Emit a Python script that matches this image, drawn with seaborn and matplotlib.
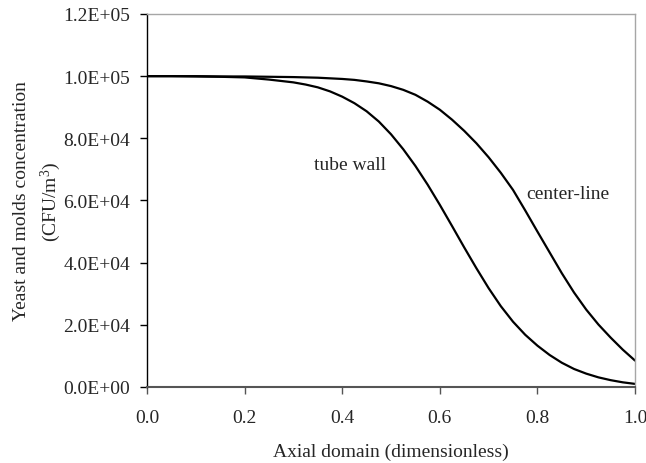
import matplotlib
matplotlib.use("Agg")
import matplotlib.pyplot as plt
import seaborn as sns
import pandas as pd
import numpy as np
from matplotlib.ticker import FuncFormatter, MultipleLocator

# axial position (dimensionless)
axial = [0.0, 0.05, 0.1, 0.15, 0.2, 0.25, 0.3, 0.325, 0.35, 0.375, 0.4, 0.425, 0.45, 0.475,
         0.5, 0.525, 0.55, 0.575, 0.6, 0.625, 0.65, 0.675, 0.7, 0.725, 0.75, 0.775,
         0.8, 0.825, 0.85, 0.875, 0.9, 0.925, 0.95, 0.975, 1.0]

# concentration (CFU/m3), in units of 1e3
tube_wall = [100.0, 100.0, 99.9, 99.8, 99.6, 98.9, 98.0, 97.3, 96.4, 95.1, 93.4, 91.3, 88.7, 85.4,
             81.3, 76.5, 71.1, 65.1, 58.6, 51.8, 44.9, 38.2, 31.8, 26.0, 21.0, 16.8,
             13.3, 10.3, 7.8, 5.8, 4.3, 3.1, 2.2, 1.5, 1.0]
center_line = [100.0, 100.0, 100.0, 99.9, 99.9, 99.8, 99.7, 99.6, 99.5, 99.3, 99.1, 98.8, 98.3, 97.7,
               96.8, 95.6, 94.0, 91.8, 89.2, 86.0, 82.4, 78.4, 73.9, 68.9, 63.4, 56.8,
               50.0, 43.3, 36.6, 30.4, 24.9, 20.1, 15.9, 12.0, 8.5]

series_names = ["tube wall", "center-line"]

df = pd.DataFrame({
    "x": axial * 2,
    "y": np.array(tube_wall + center_line) * 1e3,
    "series": [series_names[0]] * len(axial) + [series_names[1]] * len(axial),
})

sns.set_style("white")
plt.rcParams["font.family"] = ["Liberation Serif", "DejaVu Serif"]
plt.rcParams["mathtext.fontset"] = "custom"
plt.rcParams["mathtext.rm"] = "Liberation Serif"
plt.rcParams["mathtext.it"] = "Liberation Serif:italic"

fs = 14

fig, ax = plt.subplots(figsize=(6.46, 4.64), dpi=100)
fig.subplots_adjust(left=0.2276, right=0.983, top=0.9677, bottom=0.1638)

sns.lineplot(data=df, x="x", y="y", hue="series", palette=["black", "black"],
             legend=False, linewidth=1.6, ax=ax)

ax.set_xlim(0, 1.0)
ax.set_ylim(0, 1.2e5)
ax.xaxis.set_major_locator(MultipleLocator(0.2))
ax.yaxis.set_major_locator(MultipleLocator(2.0e4))
ax.xaxis.set_major_formatter(FuncFormatter(lambda v, p: f"{v:.1f}"))
ax.yaxis.set_major_formatter(FuncFormatter(lambda v, p: f"{v:.1E}"))

for side in ["top", "right"]:
    ax.spines[side].set_color("#a6a6a6")
    ax.spines[side].set_linewidth(1.0)
ax.spines["left"].set_color("black")
ax.spines["left"].set_linewidth(1.0)
ax.spines["bottom"].set_color("#555555")
ax.spines["bottom"].set_linewidth(1.5)

ax.tick_params(axis="y", direction="out", length=5, width=1, color="black",
               labelsize=fs, pad=7, left=True)
ax.tick_params(axis="x", direction="out", length=5, width=1, color="#555555",
               labelsize=fs, pad=11, bottom=True)

ax.set_xlabel("Axial domain (dimensionless)", fontsize=fs, labelpad=12)
ax.set_ylabel("Yeast and molds concentration\n(CFU/m$^{3}$)", fontsize=fs, labelpad=0,
              linespacing=1.5)

ax.text(0.416, 7.17e4, "tube wall", fontsize=fs, ha="center", va="center")
ax.text(0.863, 6.24e4, "center-line", fontsize=fs, ha="center", va="center")

fig.savefig("out.png", dpi=100)
